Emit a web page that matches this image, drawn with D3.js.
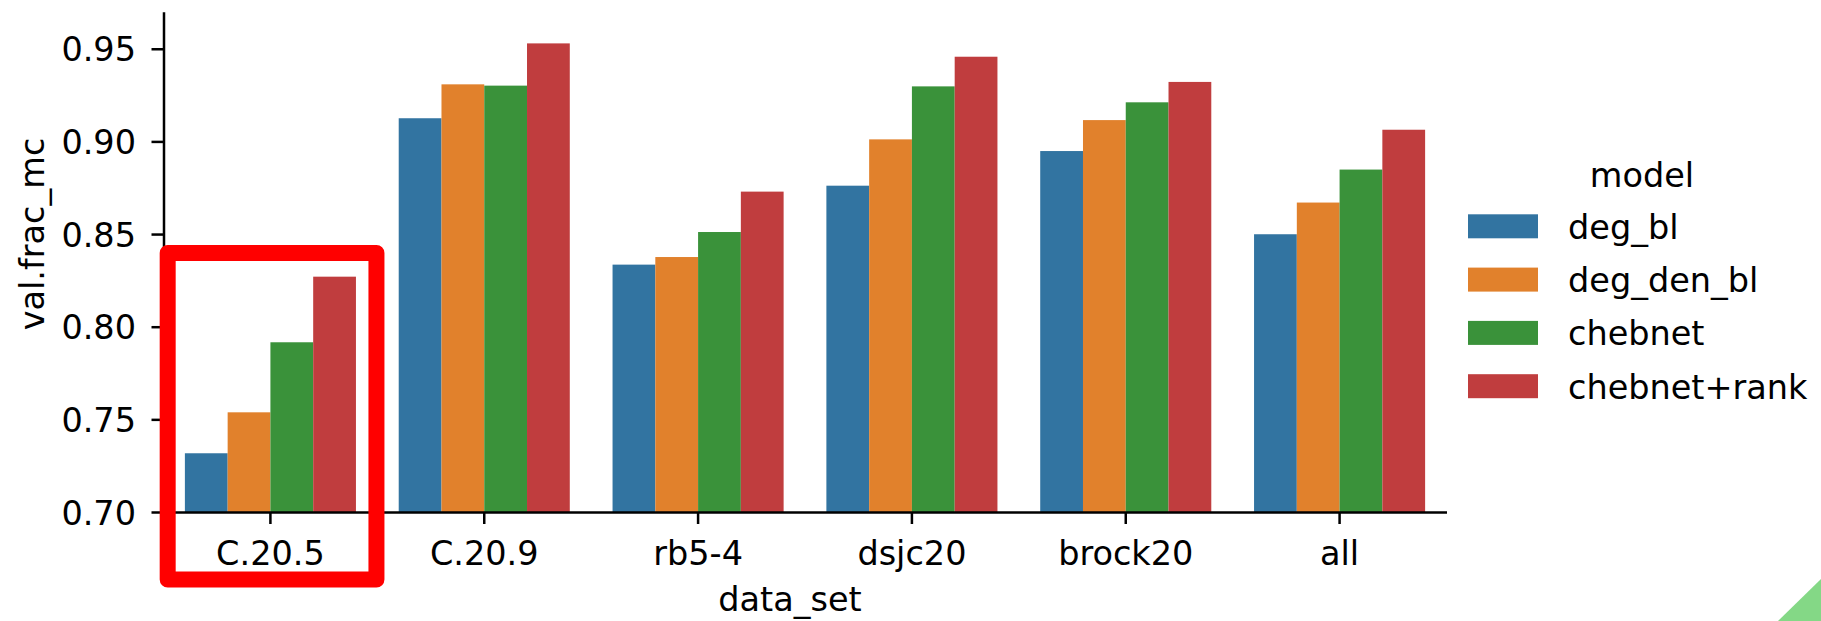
<!DOCTYPE html>
<html>
<head>
<meta charset="utf-8">
<script src="https://cdn.jsdelivr.net/npm/d3@7"></script>
<style>
  html, body { margin: 0; padding: 0; background: #fff; }
  svg { display: block; font-family: "DejaVu Sans", sans-serif; }
</style>
</head>
<body>
<svg id="chart" width="1821" height="621"></svg>
<script>
// data
const dataSets = ["C.20.5", "C.20.9", "rb5-4", "dsjc20", "brock20", "all"];
const models = ["deg_bl", "deg_den_bl", "chebnet", "chebnet+rank"];
const colors = ["#3274a1", "#e1812c", "#3a923a", "#c03d3e"];
const degBl = [0.7317, 0.9125, 0.8335, 0.8761, 0.8948, 0.8499];
const degDenBl = [0.7538, 0.9308, 0.8376, 0.9011, 0.9115, 0.8670];
const chebnet = [0.7916, 0.9301, 0.8511, 0.9297, 0.9211, 0.8848];
const chebnetRank = [0.8270, 0.9529, 0.8729, 0.9457, 0.9321, 0.9063];
const yTicks = [0.70, 0.75, 0.80, 0.85, 0.90, 0.95];

const series = [degBl, degDenBl, chebnet, chebnetRank];
const rows = [];
dataSets.forEach((ds, i) => {
    models.forEach((m, j) => rows.push({ ds: ds, model: m, value: series[j][i] }));
});

const svg = d3.select("#chart");
const fontSize = 33.5;
const plotLeft = 163.5, plotRight = 1446.5, plotTop = 11.7, plotBottom = 512;

const x = d3.scaleBand().domain(dataSets).range([plotLeft, plotRight]).paddingInner(0.2).paddingOuter(0.1);
const xInner = d3.scaleBand().domain(models).range([0, x.bandwidth()]);
const y = d3.scaleLinear().domain([0.70, 0.97]).range([plotBottom, plotTop]);
const color = d3.scaleOrdinal().domain(models).range(colors);

// bars
svg.append("g").selectAll("rect").data(rows).enter().append("rect")
    .attr("x", d => x(d.ds) + xInner(d.model))
    .attr("y", d => y(d.value))
    .attr("width", xInner.bandwidth())
    .attr("height", d => y(0.70) - y(d.value))
    .attr("fill", d => color(d.model));

// axes
const yAxis = svg.append("g").attr("transform", `translate(${plotLeft},0)`)
    .call(d3.axisLeft(y).tickValues(yTicks).tickFormat(d3.format(".2f")).tickSize(12).tickSizeOuter(0).tickPadding(15.5));
const xAxis = svg.append("g").attr("transform", `translate(0,${plotBottom})`)
    .call(d3.axisBottom(x).tickSize(12).tickSizeOuter(0).tickPadding(17));

[yAxis, xAxis].forEach(a => {
    a.select(".domain").attr("stroke", "#000").attr("stroke-width", 2.5);
    a.selectAll(".tick line").attr("stroke", "#000").attr("stroke-width", 2.5);
    a.selectAll(".tick text").attr("fill", "#000").style("font-size", fontSize + "px")
        .style("font-family", "DejaVu Sans");
});
yAxis.selectAll(".tick text").attr("dy", "0.36em");

// axis labels
svg.append("text")
    .attr("transform", "translate(43.5,234) rotate(-90)")
    .attr("text-anchor", "middle")
    .style("font-size", fontSize + "px")
    .text("val.frac_mc");

svg.append("text")
    .attr("x", 790).attr("y", 611)
    .attr("text-anchor", "middle")
    .style("font-size", fontSize + "px")
    .text("data_set");

// legend
const legend = svg.append("g").attr("transform", "translate(1468,0)");
legend.append("text")
    .attr("x", 174).attr("y", 187)
    .attr("text-anchor", "middle")
    .style("font-size", fontSize + "px")
    .text("model");

const item = legend.selectAll(".item").data(models).enter().append("g")
    .attr("class", "item")
    .attr("transform", (d, i) => `translate(0,${214.3 + i * 53.3})`);
item.append("rect").attr("width", 70).attr("height", 24).attr("fill", d => color(d));
item.append("text")
    .attr("x", 100).attr("y", 12).attr("dy", "0.37em")
    .style("font-size", fontSize + "px")
    .text(d => d);

// red highlight around the first group
const hx = x(dataSets[0]);
svg.append("rect")
    .attr("x", hx - 17.2).attr("y", 253)
    .attr("width", x.bandwidth() + 37.7).attr("height", 326.5)
    .attr("fill", "none").attr("stroke", "#ff0000").attr("stroke-width", 16)
    .attr("stroke-linejoin", "round");

// corner mark
svg.append("polygon")
    .attr("points", "1778,621 1821,579 1821,621")
    .attr("fill", "#84d886");
</script>
</body>
</html>
